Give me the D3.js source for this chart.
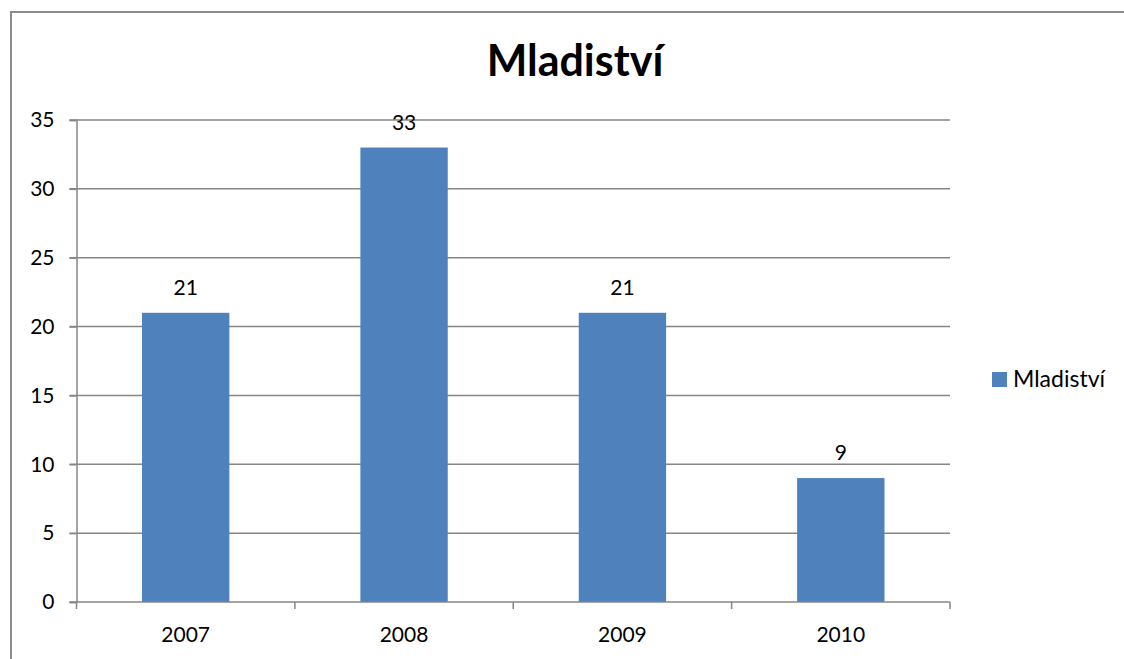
<!DOCTYPE html>
<html>
<head>
<meta charset="utf-8">
<script src="https://cdn.jsdelivr.net/npm/d3@7"></script>
<style>
  body { margin: 0; background: #fff; }
  text { font-family: Lato, "Open Sans", sans-serif; fill: #000; }
</style>
</head>
<body>
<svg width="1124" height="659"></svg>
<script>
// chart data
var years = ["2007", "2008", "2009", "2010"],
    counts = [21, 33, 21, 9],
    yTicks = [0, 5, 10, 15, 20, 25, 30, 35],
    seriesName = "Mladiství";

var svg = d3.select("svg"),
    plotLeft = 76.5, plotRight = 950, plotTop = 120, plotBottom = 602,
    barColor = "#4f81bd",
    lineColor = "#868686";

// outer frame (top and left edge visible)
svg.append("path")
    .attr("d", "M11,659 V12 H1124")
    .attr("fill", "none")
    .attr("stroke", "#8c8c8c")
    .attr("stroke-width", 2);

var x = d3.scaleBand().domain(years).range([plotLeft, plotRight]).paddingInner(0.6).paddingOuter(0.3);
var y = d3.scaleLinear().domain([0, 35]).range([plotBottom, plotTop]);

// gridlines
svg.append("g").selectAll("line")
    .data(yTicks.filter(function(d) { return d > 0; }))
  .enter().append("line")
    .attr("x1", plotLeft - 7).attr("x2", plotRight)
    .attr("y1", function(d) { return y(d); })
    .attr("y2", function(d) { return y(d); })
    .attr("stroke", lineColor)
    .attr("stroke-width", 1.5);

// y axis
var yAxis = svg.append("g")
    .attr("transform", "translate(" + plotLeft + ",0)")
    .call(d3.axisLeft(y).tickValues(yTicks).tickSize(7).tickPadding(15));
yAxis.select(".domain").attr("stroke", lineColor).attr("stroke-width", 1.5);
yAxis.selectAll(".tick line").attr("stroke", lineColor).attr("stroke-width", 1.5);
yAxis.selectAll("text").style("font-size", "21px").style("font-family", "Lato, 'Open Sans', sans-serif").attr("fill", "#000");

// bars
svg.append("g").selectAll("rect")
    .data(counts)
  .enter().append("rect")
    .attr("x", function(d, i) { return x(years[i]); })
    .attr("y", function(d) { return y(d); })
    .attr("width", x.bandwidth())
    .attr("height", function(d) { return y(0) - y(d); })
    .attr("fill", barColor);

// data labels
svg.append("g").selectAll("text")
    .data(counts)
  .enter().append("text")
    .attr("x", function(d, i) { return x(years[i]) + x.bandwidth() / 2; })
    .attr("y", function(d) { return y(d) - 18; })
    .attr("text-anchor", "middle")
    .style("font-size", "21px")
    .text(function(d) { return d; });

// x axis (ticks between categories)
var xAxisG = svg.append("g");
xAxisG.append("line")
    .attr("x1", plotLeft - 7).attr("x2", plotRight)
    .attr("y1", plotBottom).attr("y2", plotBottom)
    .attr("stroke", lineColor).attr("stroke-width", 1.5);
var step = x.step(), edges = d3.range(years.length + 1).map(function(i) { return plotLeft + i * step; });
xAxisG.selectAll(".xt")
    .data(edges)
  .enter().append("line")
    .attr("x1", function(d) { return d; }).attr("x2", function(d) { return d; })
    .attr("y1", plotBottom).attr("y2", plotBottom + 7)
    .attr("stroke", lineColor).attr("stroke-width", 1.5);
xAxisG.selectAll("text")
    .data(years)
  .enter().append("text")
    .attr("x", function(d) { return x(d) + x.bandwidth() / 2; })
    .attr("y", plotBottom + 40)
    .attr("text-anchor", "middle")
    .style("font-size", "21px")
    .text(function(d) { return d; });

// title
svg.append("text")
    .attr("x", 575).attr("y", 76)
    .attr("text-anchor", "middle")
    .style("font-size", "43px")
    .style("font-weight", "bold")
    .text(seriesName);

// legend
var legend = svg.append("g").attr("transform", "translate(992,372)");
legend.append("rect").attr("width", 15).attr("height", 15).attr("fill", barColor);
legend.append("text").attr("x", 21).attr("y", 15).style("font-size", "23px").text(seriesName);
</script>
</body>
</html>
